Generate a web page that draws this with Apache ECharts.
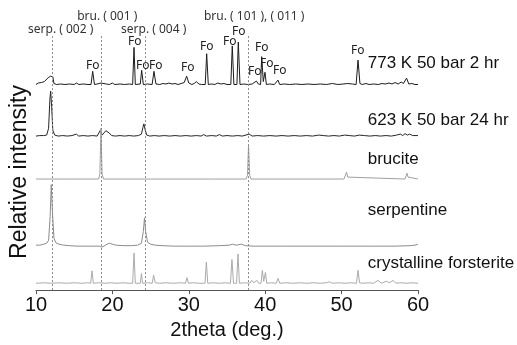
<!DOCTYPE html>
<html>
<head>
<meta charset="utf-8">
<script src="https://cdn.jsdelivr.net/npm/echarts@6/dist/echarts.min.js"></script>
<style>
  html, body { margin: 0; padding: 0; background: #fff; }
  #chart { width: 517px; height: 345px; }
</style>
</head>
<body>
<div id="chart"></div>
<script>
// ---- data (2theta in deg., intensity in arbitrary units above each trace's own baseline)
var traceNames = ['773 K 50 bar 2 hr', '623 K 50 bar 24 hr', 'brucite', 'serpentine', 'crystalline forsterite'];

var run773 = [
  [10.0,0],[10.3,1.5],[10.5,0.5],[10.7,2],[10.9,1],[11.1,3],[11.3,5],[11.6,7],[11.9,8.5],[12.2,8],[12.35,1],[12.7,0],
  [13.2,0.5],[13.8,0],[14.4,0.5],[15.0,0],[15.3,1.5],[15.6,0],[16.2,0.5],[16.8,0],
  [17.2,0],[17.42,13.5],[17.65,0],[18.0,0.5],[18.5,1.5],[18.7,0],[19.2,0.5],[19.6,0],[20.0,1.5],[20.3,0],
  [21.0,0.5],[21.6,0],[22.2,0.5],[22.65,0],[22.83,38],[23.0,0],[23.65,0.5],[23.83,14.5],[24.05,0],
  [24.6,0.5],[25.2,0],[25.44,13.5],[25.7,0.5],[26.2,0],[26.6,1],[27.0,0.5],[27.4,1.5],[27.8,0.5],[28.2,1],
  [28.6,0],[29.0,1],[29.4,2],[29.72,8.5],[30.0,1.5],[30.4,0],[30.7,1],[31.0,3],[31.3,0.5],[31.7,0],
  [32.15,0],[32.34,31.5],[32.55,0],[33.0,0.5],[33.4,0],[33.8,1.5],[34.2,0.5],[34.6,1],[35.0,0],
  [35.5,0],[35.69,39.5],[35.9,0],[36.3,0],[36.48,43.5],[36.7,0],[37.2,0.5],[37.7,0],[38.3,0.5],[38.85,3.5],
  [39.1,0.5],[39.4,0],[39.54,28.5],[39.75,3],[39.97,12.5],[40.15,0],[40.6,0.5],[41.2,0],[41.67,4.5],[41.9,0],
  [42.5,0.5],[43.2,0],[44.0,0.5],[44.8,0],[45.6,0.5],[46.4,0],[47.2,0.5],[48.0,0],[48.8,1],[49.5,0],
  [50.2,0.5],[50.8,1],[51.4,0.5],[51.9,0],[52.15,25],[52.4,1],[52.7,0],[53.2,1],[53.6,0],[54.2,0.5],
  [54.8,0],[55.3,1],[55.7,0.5],[56.2,1.5],[56.6,0.5],[57.0,2],[57.4,0.5],[57.8,2.5],[58.1,1],[58.5,6.5],
  [58.8,0.5],[59.2,1],[59.6,0],[60.0,0]
];

var run623 = [
  [10.0,0],[10.5,0.5],[11.0,0.5],[11.4,1],[11.65,8],[11.82,38],[11.92,46],[12.05,30],[12.2,6],[12.45,1],
  [12.9,0],[13.5,0.5],[14.1,0],[14.7,0.5],[15.29,2],[15.6,0],[16.2,0.5],[16.8,0],[17.4,0.5],[18.0,0],
  [18.2,1],[18.43,6],[18.65,1],[18.9,2],[19.15,5.5],[19.35,6],[19.6,3],[19.9,0.5],[20.4,0],[21.0,0.5],
  [21.6,0],[22.2,0.5],[22.8,0],[23.4,0.5],[23.8,2],[24.0,9],[24.12,12.5],[24.3,6],[24.5,1],[24.9,0],
  [25.5,0.5],[26.1,0],[26.8,0.5],[27.5,0],[28.2,0.5],[28.9,0],[29.6,0.5],[30.3,0],[31.0,0.5],[31.6,0],
  [31.95,1.5],[32.3,0],[33.0,0.5],[33.6,0],[34.0,1.5],[34.4,0],[35.0,0.5],[35.7,0],[36.4,0.5],[37.0,0],
  [37.9,2],[38.3,0],[39.0,0.5],[39.8,0],[40.6,0.5],[41.4,0],[42.2,0.5],[43.0,0],[43.8,0.5],[44.6,0],
  [45.4,0.5],[46.2,0],[47.0,1],[47.6,0.5],[48.3,0],[49.0,0.5],[49.7,0],[50.4,1],[51.0,0.5],[51.7,0],
  [52.3,1],[53.0,0.5],[53.7,0],[54.4,0.5],[55.1,0],[55.8,0.5],[56.5,0],[57.2,1],[57.7,2],[58.0,0.5],
  [58.3,2.5],[58.6,1],[58.9,2],[59.3,0.5],[60.0,0.5]
];

var brucite = [
  [10.0,0],[14.0,0],[18.2,0],[18.36,5],[18.5,52],[18.65,5],[18.85,0],[25.0,0],[32.6,0],[32.8,1.5],[33.0,0],
  [37.5,0],[37.68,4],[37.82,35],[37.97,4],[38.15,0],[50.3,0],[50.5,2],[50.65,7],[50.8,2],[51.0,0],
  [58.3,0],[58.45,2],[58.56,6],[58.7,2],[58.85,0],[60.0,0]
];

var serpentine = [
  [10.0,1],[10.5,1],[11.0,2],[11.4,3],[11.65,6],[11.85,30],[12.0,63],[12.15,35],[12.35,8],[12.6,3.5],
  [13.0,2],[13.6,1],[14.4,0.5],[15.4,0],[16.5,0],[17.5,0],[18.3,0],[18.6,-1],[18.9,0],[19.3,2],[19.6,3],
  [20.0,2],[20.5,1],[21.5,0.5],[22.5,0.5],[23.3,1],[23.8,3],[24.05,15],[24.2,29],[24.35,15],[24.6,4],
  [25.0,2],[25.6,1],[26.5,0.5],[28.0,0],[30.0,0],[32.0,0],[34.0,0.5],[35.3,1],[35.75,2],[36.2,1],
  [36.9,2],[37.4,0.5],[38.5,0],[42.0,0],[46.0,0],[50.0,0],[54.0,0],[57.0,0],[59.0,0.5],[59.6,1],[60.0,2]
];

var forsterite = [
  [10.0,0],[11.0,0.5],[12.0,0],[13.0,0.5],[14.0,0],[15.0,0.5],[16.0,0],[16.8,0.5],[17.15,0],[17.33,12.7],
  [17.5,0],[18.2,0.5],[19.0,0],[19.8,0.5],[20.6,0],[21.4,0.5],[22.2,0],[22.65,0],[22.83,31],[23.0,0],
  [23.65,0],[23.8,10],[23.95,0],[24.6,0.5],[25.2,0],[25.4,8.3],[25.6,0.5],[26.2,0],[27.0,0.5],[28.0,0],
  [29.0,0.5],[29.55,0],[29.76,5.7],[29.95,0],[30.6,0.5],[31.4,0],[32.12,0],[32.3,21.7],[32.48,0],
  [33.2,0.5],[34.0,0],[34.8,0.5],[35.45,0],[35.65,24.3],[35.85,0],[36.25,0],[36.44,30],[36.62,0],
  [37.3,0.5],[38.0,0],[38.23,3],[38.5,0.5],[38.9,3],[39.15,0],[39.45,0],[39.63,13.3],[39.8,2],[40.03,11],
  [40.2,0],[40.8,0.5],[41.45,0],[41.68,5],[41.9,0],[42.7,0.5],[43.6,0],[44.5,0.5],[45.4,0],[46.3,0.5],
  [47.2,0],[48.0,0.5],[48.4,1.5],[48.8,0],[49.6,0.5],[50.4,0],[51.2,0.5],[51.95,0],[52.15,13.3],
  [52.35,0.5],[52.8,0],[53.5,0.5],[54.2,0],[54.75,3],[55.2,0],[55.86,2],[56.3,0.5],[56.73,3],[57.1,0],
  [57.8,0.5],[58.5,0],[59.2,0.5],[60.0,0]
];

// reference reflections (dashed lines) and their labels
var refLines = [12.13, 18.6, 24.27, 37.79];
var refTexts = ['serp. ( 002 )', 'bru. ( 001 )', 'serp. ( 004 )', 'bru. ( 101 ), ( 011 )'];

// forsterite peaks labelled in the 773 K run: [2theta, label height]
var foLabels = [
  [17.42,230],[22.92,254],[23.97,230],[25.67,230],[29.86,228],[32.34,249],[35.35,254],
  [36.53,264.5],[38.62,224],[39.54,248],[40.19,232],[41.9,225],[52.1,245]
];

var xTicks = [10, 20, 30, 40, 50, 60];

// ---- layout (stacking offsets, label placement)
var offsets = [210.5, 157.7, 113.7, 45, 7];
var traceColors = ['#1c1c1c', '#262626', '#a0a0a0', '#8c8c8c', '#ababab'];
var nameX = 53.42;
var nameY = [232, 174, 134, 82, 27];
var refTextX = [13.23, 19.32, 25.4, 38.56];
var refTextY = [267, 280.3, 267, 280.3];
var refTop = 262;

var traces = [run773, run623, brucite, serpentine, forsterite];

var series = traces.map(function (tr, i) {
  return {
    name: traceNames[i],
    type: 'line',
    data: tr.map(function (p) { return [p[0], p[1] + offsets[i]]; }),
    symbol: 'none',
    smooth: false,
    lineStyle: { color: traceColors[i], width: 1 },
    z: 3
  };
});

// dashed reference lines
series.push({
  type: 'line',
  data: [],
  symbol: 'none',
  markLine: {
    silent: true,
    symbol: ['none', 'none'],
    label: { show: false },
    lineStyle: { color: '#8a8a8a', width: 1, type: [2, 2] },
    data: refLines.map(function (v) {
      return [{ coord: [v, 0] }, { coord: [v, refTop] }];
    })
  },
  z: 2
});

function textSeries(items, font, size, color, align) {
  return {
    type: 'scatter',
    symbolSize: 0,
    silent: true,
    clip: false,
    itemStyle: { opacity: 1 },
    data: items,
    label: {
      show: true, position: [0, 0], align: align, verticalAlign: 'middle',
      formatter: '{b}', fontFamily: font, fontSize: size, color: color,
      textBorderWidth: 0, textShadowBlur: 0
    },
    z: 5
  };
}

// text: sample names
series.push(textSeries(traceNames.map(function (n, i) {
  return { name: n, value: [nameX, nameY[i]] };
}), 'Liberation Sans', 17, '#111', 'left'));

// text: reflection labels
series.push(textSeries(refTexts.map(function (n, i) {
  return { name: n, value: [refTextX[i], refTextY[i]] };
}), 'Noto Sans', 12, '#333', 'center'));

// text: Fo labels
series.push(textSeries(foLabels.map(function (p) {
  return { name: 'Fo', value: p };
}), 'Noto Sans', 12, '#222', 'center'));

var chart = echarts.init(document.getElementById('chart'), null, { renderer: 'canvas' });
chart.setOption({
  animation: false,
  backgroundColor: '#fff',
  grid: { left: 36, right: 99, top: 0, bottom: 48 },
  xAxis: {
    type: 'value',
    min: xTicks[0],
    max: xTicks[xTicks.length - 1],
    interval: 10,
    name: '2theta (deg.)',
    nameLocation: 'middle',
    nameGap: 23,
    nameTextStyle: { fontFamily: 'Liberation Sans', fontSize: 20, color: '#111' },
    axisLine: { show: true, lineStyle: { color: '#555', width: 1 } },
    axisTick: { show: true, length: 4, lineStyle: { color: '#555' } },
    axisLabel: { fontFamily: 'Liberation Sans', fontSize: 20, color: '#111', margin: 5 },
    splitLine: { show: false }
  },
  yAxis: {
    type: 'value',
    min: 0,
    max: 297,
    show: false
  },
  graphic: [{
    type: 'text',
    x: 20, y: 172,
    rotation: Math.PI / 2,
    style: {
      text: 'Relative intensity',
      fontFamily: 'Liberation Sans', fontSize: 23, fill: '#111',
      align: 'center', verticalAlign: 'middle'
    }
  }],
  series: series
});
</script>
</body>
</html>
